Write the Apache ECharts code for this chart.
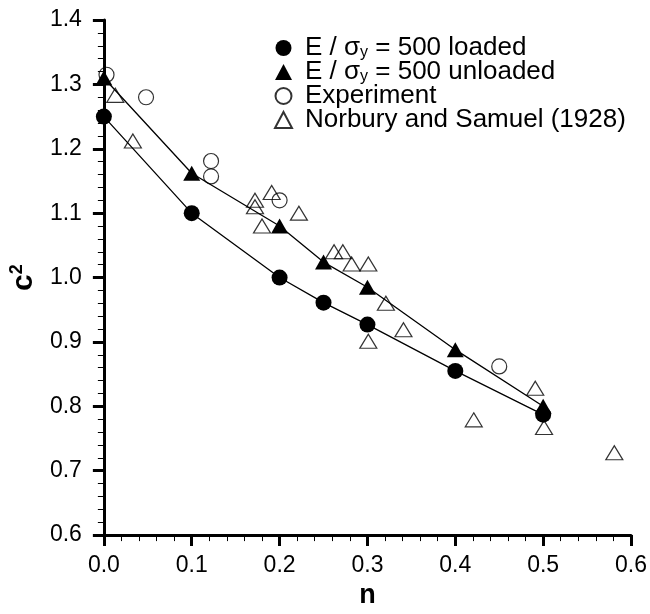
<!DOCTYPE html>
<html>
<head>
<meta charset="utf-8">
<script src="https://cdn.jsdelivr.net/npm/echarts@6/dist/echarts.min.js"></script>
<style>html,body{margin:0;padding:0;background:#fff;}#c{width:650px;height:614px;}</style>
</head>
<body>
<div id="c"></div>
<script>
// Data
const loadedN = [0, 0.1, 0.2, 0.25, 0.3, 0.4, 0.5];
const loadedC2 = [1.25, 1.10, 1.0, 0.961, 0.927, 0.855, 0.787];
const unloadedN = [0, 0.1, 0.2, 0.25, 0.3, 0.4, 0.5];
const unloadedC2 = [1.31, 1.162, 1.08, 1.024, 0.985, 0.888, 0.80];
const expN = [0.003, 0.048, 0.122, 0.122, 0.2, 0.45];
const expC2 = [1.315, 1.28, 1.181, 1.157, 1.12, 0.862];
const norN = [0.013, 0.033, 0.172, 0.172, 0.18, 0.191, 0.222, 0.262, 0.272, 0.282, 0.301, 0.321, 0.341, 0.301, 0.421, 0.491, 0.501, 0.581];
const norC2 = [1.283, 1.212, 1.12, 1.11, 1.08, 1.132, 1.10, 1.04, 1.04, 1.021, 1.021, 0.96, 0.919, 0.901, 0.779, 0.828, 0.767, 0.728];
const xTicks = ['0.0','0.1','0.2','0.3','0.4','0.5','0.6'];
const seriesNames = ['E / σ{sub|y} = 500 loaded', 'E / σ{sub|y} = 500 unloaded', 'Experiment', 'Norbury and Samuel (1928)'];
const legendIcons = ['circle', 'triangle', 'circle', 'triangle'];

const zip = (a, b) => a.map((v, i) => [v, b[i]]);
const FONT = 'Liberation Sans';

const chart = echarts.init(document.getElementById('c'), null, {renderer: 'canvas'});
chart.setOption({
  animation: false,
  backgroundColor: '#fff',
  grid: {left: 101, right: 17, top: 20, bottom: 70},
  legend: {
    orient: 'vertical',
    left: 269, top: 30,
    itemWidth: 17, itemHeight: 16, itemGap: -2,
    data: seriesNames.map((n, i) => ({name: n, icon: legendIcons[i]})),
    formatter: n => n,
    textStyle: {
      fontFamily: FONT, fontSize: 26, color: '#000', lineHeight: 22, padding: [0, 0, 0, 8],
      rich: {sub: {fontFamily: FONT, fontSize: 16, color: '#000', lineHeight: 16, padding: [10, 0, 0, 0]}}
    }
  },
  xAxis: {
    type: 'value', min: 0, max: 0.6, interval: 0.1,
    name: 'n', nameLocation: 'middle', nameGap: 45,
    nameTextStyle: {fontFamily: FONT, fontSize: 27, fontWeight: 'bold', color: '#000'},
    axisLine: {onZero: false, lineStyle: {color: '#000', width: 3}},
    axisTick: {show: true, inside: false, length: 11, lineStyle: {color: '#000', width: 3}},
    minorTick: {show: true, splitNumber: 5, length: 6, lineStyle: {color: '#000', width: 1}},
    axisLabel: {fontFamily: FONT, fontSize: 23, color: '#000', margin: 19,
      formatter: v => xTicks[Math.round(v * 10)]},
    splitLine: {show: false}
  },
  yAxis: {
    type: 'value', min: 0.6, max: 1.4, interval: 0.1,
    name: '{b|c}{s|2}', nameLocation: 'middle', nameGap: 56, nameRotate: 90,
    nameTextStyle: {rich: {
      b: {fontFamily: FONT, fontSize: 30, fontWeight: 'bold', color: '#000'},
      s: {fontFamily: FONT, fontSize: 18, fontWeight: 'bold', color: '#000', padding: [0, 0, 14, 0]}
    }},
    axisLine: {onZero: false, lineStyle: {color: '#000', width: 3}},
    axisTick: {show: true, inside: false, length: 11, lineStyle: {color: '#000', width: 3}},
    minorTick: {show: true, splitNumber: 5, length: 6, lineStyle: {color: '#000', width: 1}},
    axisLabel: {fontFamily: FONT, fontSize: 23, color: '#000', margin: 22,
      formatter: v => v.toFixed(1)},
    splitLine: {show: false}
  },
  series: [
    {
      name: seriesNames[0], type: 'line', data: zip(loadedN, loadedC2),
      symbol: 'circle', symbolSize: 16,
      lineStyle: {color: '#000', width: 1.3},
      itemStyle: {color: '#000', borderWidth: 0}, z: 4
    },
    {
      name: seriesNames[1], type: 'line', data: zip(unloadedN, unloadedC2),
      symbol: 'triangle', symbolSize: [17, 15],
      lineStyle: {color: '#000', width: 1.3},
      itemStyle: {color: '#000', borderWidth: 0}, z: 3
    },
    {
      name: seriesNames[2], type: 'scatter', data: zip(expN, expC2),
      symbol: 'circle', symbolSize: 15,
      itemStyle: {color: 'rgba(255,255,255,0)', borderColor: '#000', borderWidth: 1.2}, z: 2
    },
    {
      name: seriesNames[3], type: 'scatter', data: zip(norN, norC2),
      symbol: 'triangle', symbolSize: [17, 14],
      itemStyle: {color: 'rgba(255,255,255,0)', borderColor: '#000', borderWidth: 1.2}, z: 2
    }
  ]
});
</script>
</body>
</html>
